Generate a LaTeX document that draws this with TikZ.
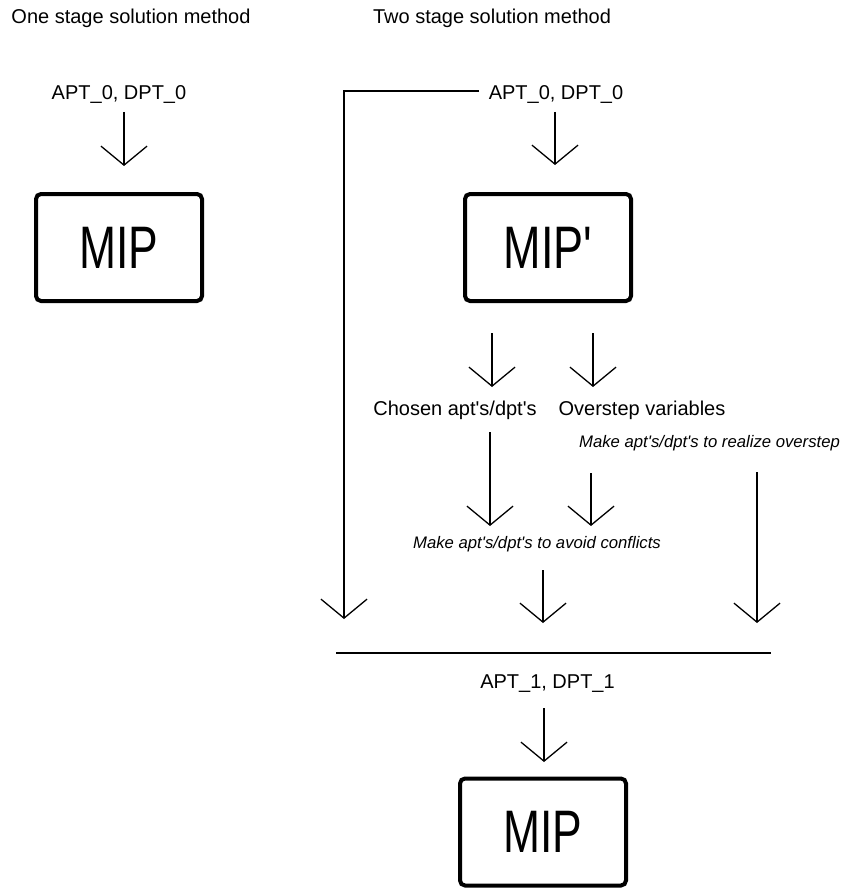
\documentclass[tikz,border=0pt]{standalone}
\usepackage{fontspec}
\usepackage{graphicx}
\setmainfont{Liberation Sans}[Ligatures=TeXOff]
\usetikzlibrary{arrows.meta}
\begin{document}
\begin{tikzpicture}[x=1pt,y=-1pt,
  lbl/.style={inner sep=0pt,anchor=base,font=\fontsize{20}{24}\selectfont},
  ilbl/.style={inner sep=0pt,anchor=base,font=\fontsize{16.7}{20}\selectfont\itshape},
  mipbox/.style={draw,line width=4pt,rounded corners=5pt,minimum width=166pt,minimum height=107pt,inner sep=0pt,font=\fontsize{60}{70}\selectfont},
  arr/.style={line width=1.3pt,-{Straight Barb[length=19pt,width=46pt,line width=1.3pt]}},
  tarr/.style={line width=2pt,-{Straight Barb[length=19pt,width=46pt,line width=1.3pt]}},
  rule/.style={line width=2pt}]
\useasboundingbox (0,0) rectangle (842,888);
% headings
\node[lbl] (h1) at (131,24) {One stage solution method};
\node[lbl] (h2) at (492,24) {Two stage solution method};
% one stage
\node[lbl] (a0l) at (119,100) {APT\_0, DPT\_0};
\node[mipbox] (mipl) at (119,247.5) {\scalebox{0.74}[1]{MIP}};
\coordinate (a0ls) at (124,112);
\coordinate (a0le) at (124,166);
\draw[arr] (a0ls) -- (a0le);
% two stage
\node[lbl] (a0r) at (556,100) {APT\_0, DPT\_0};
\node[mipbox] (mipr) at (548,247.5) {\scalebox{0.75}[1]{MIP'}};
\coordinate (a0rs) at (555,112);
\coordinate (a0re) at (555,165);
\draw[arr] (a0rs) -- (a0re);
\node[lbl] (chosen) at (455,415) {Chosen apt's/dpt's};
\node[lbl] (over) at (642,415) {Overstep variables};
\coordinate (c1s) at (492,333);
\coordinate (c1e) at (492,387);
\coordinate (o1s) at (593,333);
\coordinate (o1e) at (593,387);
\draw[arr] (c1s) -- (c1e);
\draw[arr] (o1s) -- (o1e);
\node[ilbl] (real) at (709.5,447) {Make apt's/dpt's to realize overstep};
\node[ilbl] (confl) at (537,548) {Make apt's/dpt's to avoid conflicts};
\coordinate (c2s) at (490,432);
\coordinate (c2e) at (490,526);
\coordinate (o2s) at (591,473);
\coordinate (o2e) at (591,526);
\draw[tarr] (c2s) -- (c2e);
\draw[arr] (o2s) -- (o2e);
\coordinate (fs) at (543,570);
\coordinate (fe) at (543,623);
\draw[arr] (fs) -- (fe);
\coordinate (rs) at (757,472);
\coordinate (re) at (757,623);
\draw[tarr] (rs) -- (re);
\coordinate (ls) at (479,91);
\coordinate (lc) at (344,91);
\coordinate (le) at (344,619);
\draw[tarr] (ls) -- (lc) -- (le);
\coordinate (bl) at (336,653);
\coordinate (br) at (771,653);
\draw[rule] (bl) -- (br);
\node[lbl] (a1) at (547.5,688) {APT\_1, DPT\_1};
\coordinate (a1s) at (544,708);
\coordinate (a1e) at (544,762);
\draw[arr] (a1s) -- (a1e);
\node[mipbox] (mipb) at (543,832) {\scalebox{0.74}[1]{MIP}};
\end{tikzpicture}
\end{document}
